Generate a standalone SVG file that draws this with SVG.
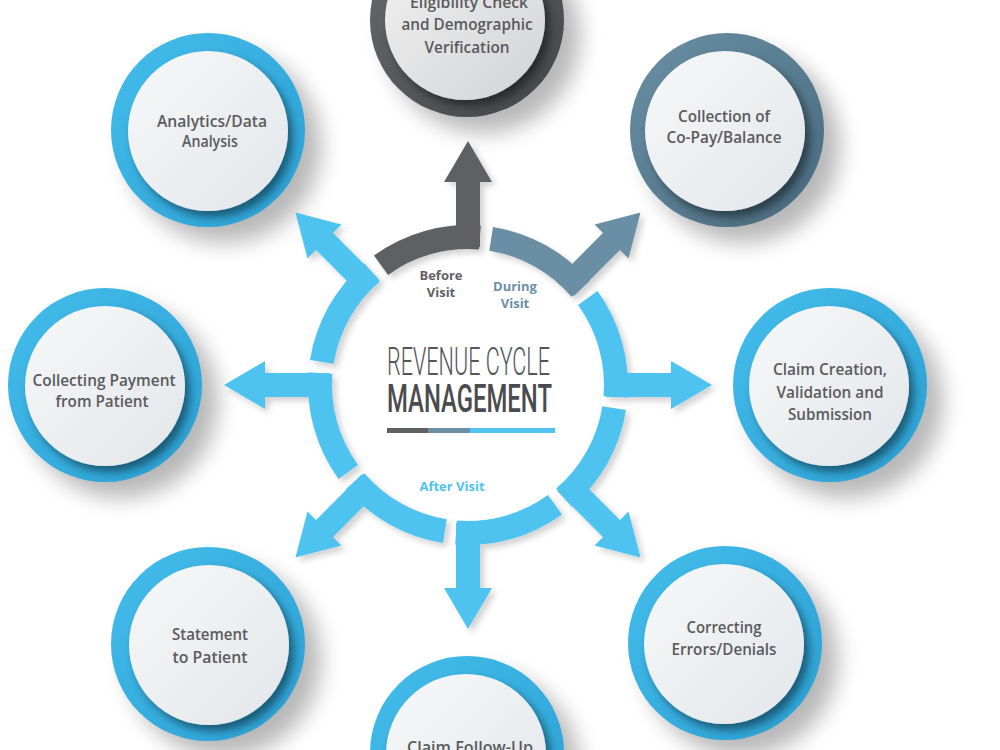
<svg xmlns="http://www.w3.org/2000/svg" width="1000" height="750" viewBox="0 0 1000 750">
<defs>
<style>
.lbl{font-family:"Open Sans","Liberation Sans",sans-serif;font-weight:600;font-size:16px;fill:#5a5b5e;text-anchor:middle}
.phase{font-family:"Open Sans","Liberation Sans",sans-serif;font-weight:700;font-size:13px;text-anchor:middle}
.arcB{fill:none;stroke:#4fc3ef;stroke-width:24}
.fillB{fill:#4fc3ef}
.arcG{fill:none;stroke:#5f6064;stroke-width:24}
.fillG{fill:#5f6064}
.arcS{fill:none;stroke:#6b8fa4;stroke-width:24}
.fillS{fill:#6b8fa4}
.shadow{fill:#000;opacity:0.28}
</style>
<linearGradient id="ringBlue" x1="0" y1="0" x2="1" y2="1">
<stop offset="0" stop-color="#44bdec"/><stop offset="1" stop-color="#2a9fd2"/>
</linearGradient>
<linearGradient id="ringGray" x1="0" y1="0" x2="1" y2="1">
<stop offset="0" stop-color="#6a6b6e"/><stop offset="1" stop-color="#434447"/>
</linearGradient>
<linearGradient id="ringSteel" x1="0" y1="0" x2="1" y2="1">
<stop offset="0" stop-color="#6a90a5"/><stop offset="1" stop-color="#47697c"/>
</linearGradient>
<linearGradient id="disc" x1="0" y1="0" x2="1" y2="1">
<stop offset="0" stop-color="#f6f8f9"/><stop offset="1" stop-color="#e3e6e9"/>
</linearGradient>
<linearGradient id="discGray" x1="0" y1="0" x2="1" y2="1">
<stop offset="0" stop-color="#f2f2f2"/><stop offset="1" stop-color="#d2d3d5"/>
</linearGradient>
<filter id="blurShadow" x="-50%" y="-50%" width="200%" height="200%"><feGaussianBlur stdDeviation="11"/></filter>
<filter id="discShadow" x="-30%" y="-30%" width="160%" height="160%"><feDropShadow dx="5" dy="6" stdDeviation="4" flood-color="#000" flood-opacity="0.45"/></filter>
<filter id="arrowShadow" x="-30%" y="-30%" width="160%" height="160%"><feDropShadow dx="4" dy="4" stdDeviation="3" flood-color="#000" flood-opacity="0.18"/></filter>
<g id="arrowShape">
<rect x="138" y="-12" width="68" height="24"/>
<polygon points="203,-24 244,0 203,24"/>
</g>
</defs>
<rect width="1000" height="750" fill="#ffffff"/>

<!-- node shadows -->
<g id="shadows">
<circle class="shadow" cx="483" cy="36" r="97" filter="url(#blurShadow)"/>
<circle class="shadow" cx="743" cy="146" r="97" filter="url(#blurShadow)"/>
<circle class="shadow" cx="224" cy="146" r="97" filter="url(#blurShadow)"/>
<circle class="shadow" cx="121" cy="401" r="97" filter="url(#blurShadow)"/>
<circle class="shadow" cx="846" cy="401" r="97" filter="url(#blurShadow)"/>
<circle class="shadow" cx="741" cy="659" r="97" filter="url(#blurShadow)"/>
<circle class="shadow" cx="224" cy="660" r="97" filter="url(#blurShadow)"/>
<circle class="shadow" cx="483" cy="769" r="97" filter="url(#blurShadow)"/>
</g>

<!-- connectors: ring segments with arrows -->
<g id="connectors" filter="url(#arrowShadow)">
<g transform="translate(468,385) rotate(-90)">
<path class="arcG" d="M119.73 -86.99 A148 148 0 0 1 147.52 11.87"/>
<use href="#arrowShape" class="fillG"/>
</g>
<g transform="translate(468,385) rotate(-45)">
<path class="arcS" d="M119.73 -86.99 A148 148 0 0 1 147.52 11.87"/>
<use href="#arrowShape" class="fillS"/>
</g>
<g transform="translate(468,385) rotate(0)">
<path class="arcB" d="M119.73 -86.99 A148 148 0 0 1 147.52 11.87"/>
<use href="#arrowShape" class="fillB"/>
</g>
<g transform="translate(468,385) rotate(45)">
<path class="arcB" d="M119.73 -86.99 A148 148 0 0 1 147.52 11.87"/>
<use href="#arrowShape" class="fillB"/>
</g>
<g transform="translate(468,385) rotate(90)">
<path class="arcB" d="M119.73 -86.99 A148 148 0 0 1 147.52 11.87"/>
<use href="#arrowShape" class="fillB"/>
</g>
<g transform="translate(468,385) rotate(135)">
<path class="arcB" d="M119.73 -86.99 A148 148 0 0 1 147.52 11.87"/>
<use href="#arrowShape" class="fillB"/>
</g>
<g transform="translate(468,385) rotate(180)">
<path class="arcB" d="M119.73 -86.99 A148 148 0 0 1 147.52 11.87"/>
<use href="#arrowShape" class="fillB"/>
</g>
<g transform="translate(468,385) rotate(225)">
<path class="arcB" d="M119.73 -86.99 A148 148 0 0 1 147.52 11.87"/>
<use href="#arrowShape" class="fillB"/>
</g>
</g>

<!-- center -->
<g id="center">
<text x="387" y="375" font-family="Roboto,'Liberation Sans',sans-serif" font-weight="300" font-size="39" fill="#545558" textLength="163" lengthAdjust="spacingAndGlyphs">REVENUE CYCLE</text>
<text x="387" y="412" font-family="Roboto,'Liberation Sans',sans-serif" font-weight="500" font-size="39" fill="#4a4b4e" textLength="165" lengthAdjust="spacingAndGlyphs">MANAGEMENT</text>
<rect x="387" y="428" width="41" height="5" fill="#5f6064"/>
<rect x="428" y="428" width="42" height="5" fill="#6b8fa4"/>
<rect x="470" y="428" width="85" height="5" fill="#4fc3ef"/>
<text class="phase" x="441" y="280" fill="#5f6064">Before</text>
<text class="phase" x="441" y="297" fill="#5f6064">Visit</text>
<text class="phase" x="515" y="291" fill="#6b8fa4">During</text>
<text class="phase" x="515" y="308" fill="#6b8fa4">Visit</text>
<text class="phase" x="452" y="491" fill="#4fc3ef" font-size="14">After Visit</text>
</g>

<g id="node-eligibility">
<circle cx="467" cy="20" r="97" fill="url(#ringGray)"/>
<circle cx="465" cy="20" r="80" fill="url(#discGray)" filter="url(#discShadow)"/>
<text class="lbl" x="469" y="8" textLength="118" lengthAdjust="spacingAndGlyphs">Eligibility Check</text>
<text class="lbl" x="467" y="30" textLength="131" lengthAdjust="spacingAndGlyphs">and Demographic</text>
<text class="lbl" x="467" y="53" textLength="85" lengthAdjust="spacingAndGlyphs">Verification</text>
</g>

<g id="node-collection">
<circle cx="727" cy="130" r="97" fill="url(#ringSteel)"/>
<circle cx="725" cy="131" r="80" fill="url(#disc)" filter="url(#discShadow)"/>
<text class="lbl" x="724" y="122" textLength="92" lengthAdjust="spacingAndGlyphs">Collection of</text>
<text class="lbl" x="724" y="143" textLength="115" lengthAdjust="spacingAndGlyphs">Co-Pay/Balance</text>
</g>

<g id="node-analytics">
<circle cx="208" cy="130" r="97" fill="url(#ringBlue)"/>
<circle cx="208" cy="131" r="80" fill="url(#disc)" filter="url(#discShadow)"/>
<text class="lbl" x="212" y="127" textLength="110" lengthAdjust="spacingAndGlyphs">Analytics/Data</text>
<text class="lbl" x="210" y="147" textLength="56" lengthAdjust="spacingAndGlyphs">Analysis</text>
</g>

<g id="node-collecting">
<circle cx="105" cy="385" r="97" fill="url(#ringBlue)"/>
<circle cx="105" cy="386" r="80" fill="url(#disc)" filter="url(#discShadow)"/>
<text class="lbl" x="104" y="386" textLength="143" lengthAdjust="spacingAndGlyphs">Collecting Payment</text>
<text class="lbl" x="102" y="407" textLength="93" lengthAdjust="spacingAndGlyphs">from Patient</text>
</g>

<g id="node-claim-creation">
<circle cx="830" cy="385" r="97" fill="url(#ringBlue)"/>
<circle cx="829" cy="386" r="80" fill="url(#disc)" filter="url(#discShadow)"/>
<text class="lbl" x="830" y="375" textLength="114" lengthAdjust="spacingAndGlyphs">Claim Creation,</text>
<text class="lbl" x="830" y="398" textLength="107" lengthAdjust="spacingAndGlyphs">Validation and</text>
<text class="lbl" x="830" y="420" textLength="84" lengthAdjust="spacingAndGlyphs">Submission</text>
</g>

<g id="node-correcting">
<circle cx="725" cy="643" r="97" fill="url(#ringBlue)"/>
<circle cx="724" cy="644" r="80" fill="url(#disc)" filter="url(#discShadow)"/>
<text class="lbl" x="724" y="633" textLength="75" lengthAdjust="spacingAndGlyphs">Correcting</text>
<text class="lbl" x="724" y="655" textLength="105" lengthAdjust="spacingAndGlyphs">Errors/Denials</text>
</g>

<g id="node-statement">
<circle cx="208" cy="644" r="97" fill="url(#ringBlue)"/>
<circle cx="209" cy="645" r="80" fill="url(#disc)" filter="url(#discShadow)"/>
<text class="lbl" x="210" y="640" textLength="76" lengthAdjust="spacingAndGlyphs">Statement</text>
<text class="lbl" x="210" y="663" textLength="75" lengthAdjust="spacingAndGlyphs">to Patient</text>
</g>

<g id="node-followup">
<circle cx="467" cy="753" r="97" fill="url(#ringBlue)"/>
<circle cx="466" cy="754" r="80" fill="url(#disc)" filter="url(#discShadow)"/>
<text class="lbl" x="470" y="753" textLength="126" lengthAdjust="spacingAndGlyphs">Claim Follow-Up</text>
</g>
</svg>
